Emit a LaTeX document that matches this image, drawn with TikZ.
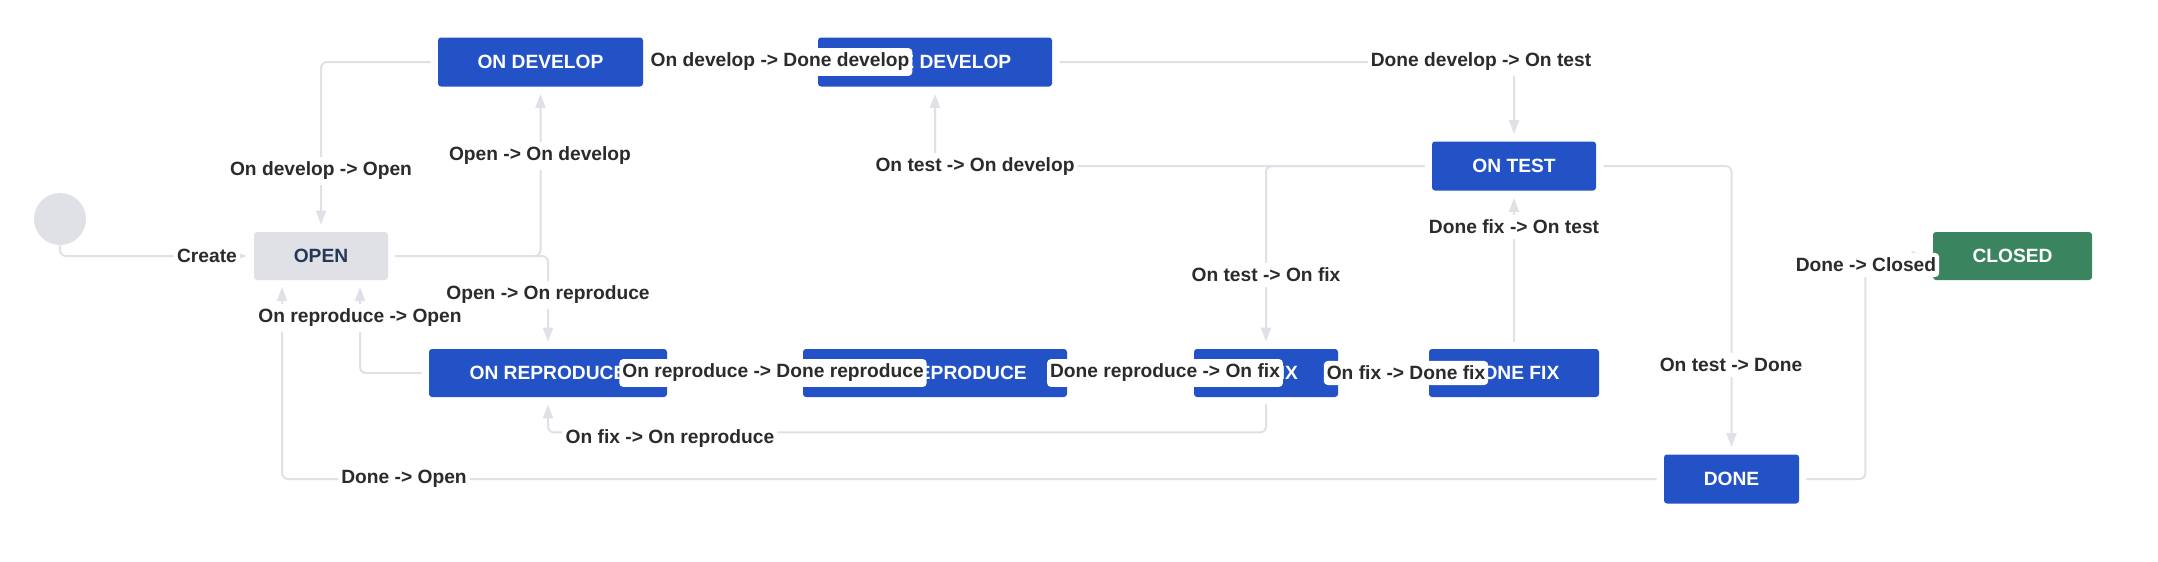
\documentclass[tikz,border=0pt]{standalone}
\usepackage{fontspec}
\setmainfont{Liberation Sans}
\usetikzlibrary{arrows.meta}
\definecolor{jblue}{HTML}{2352C6}
\definecolor{jgreen}{HTML}{3A8560}
\definecolor{jgray}{HTML}{DFE1E6}
\definecolor{jnavy}{HTML}{253858}
\definecolor{jline}{HTML}{DFE1E6}
\definecolor{jtext}{HTML}{2B2B2B}
\begin{document}
\begin{tikzpicture}[x=0.5pt,y=-0.5pt,
 font=\fontsize{9.6}{11}\selectfont\bfseries,
 state/.style={rectangle, rounded corners=1.5pt, inner sep=0pt, minimum height=24pt},
 bluestate/.style={state, fill=jblue, text=white},
 conn/.style={draw=jline, line width=1pt, rounded corners=3pt, shorten <=3.5pt},
 arr/.style={conn, -{Triangle[width=5pt,length=7pt]}, shorten >=3.5pt},
 lbl/.style={fill=white, text=jtext, rounded corners=2pt, inner xsep=1.5pt, inner ysep=2.5pt}
]
\useasboundingbox (0,0) rectangle (2158,562);

% states
\node[circle, fill=jgray, minimum size=26pt, inner sep=0pt] (start) at (60,219) {};
\node[state, fill=jgray, text=jnavy, minimum width=67pt] (open) at (321,256) {OPEN};
\node[bluestate, minimum width=102.5pt, minimum height=24.5pt] (ondev) at (540.5,62) {ON DEVELOP};
\node[bluestate, minimum width=117pt, minimum height=24.5pt] (donedev) at (935,62) {DONE DEVELOP};
\node[bluestate, minimum width=82pt, minimum height=24.5pt] (ontest) at (1514,166) {ON TEST};
\node[state, fill=jgreen, text=white, minimum width=79.5pt] (closed) at (2012.5,256) {CLOSED};
\node[bluestate, minimum width=119pt] (onrep) at (548,373) {ON REPRODUCE};
\node[bluestate, minimum width=132pt] (donerep) at (935,373) {DONE REPRODUCE};
\node[bluestate, minimum width=72pt] (onfix) at (1266,373) {ON FIX};
\node[bluestate, minimum width=85pt] (donefix) at (1514,373) {DONE FIX};
\node[bluestate, minimum width=67.5pt, minimum height=24.5pt] (done) at (1731.5,479) {DONE};

\coordinate (openB1) at (282,280);
\coordinate (openB2) at (360,280);

% connectors
\draw[arr, shorten <=0pt] (start.south) |- (open.west);
\draw[arr] (ondev.west) -| (open.north);
\draw[arr] (open.east) -| (ondev.south);
\draw[arr] (open.east) -| (onrep.north);
\draw[arr] (onrep.west) -| (openB2);
\draw[arr] (done.west) -| (openB1);
\draw[arr] (ondev.east) -- (donedev.west);
\draw[arr] (donedev.east) -| (ontest.north);
\draw[arr] (ontest.west) -| (donedev.south);
\draw[arr] (ontest.west) -| (onfix.north);
\draw[arr] (ontest.east) -| (done.north);
\draw[arr] (onrep.east) -- (donerep.west);
\draw[arr] (donerep.east) -- (onfix.west);
\draw[arr] (onfix.east) -- (donefix.west);
\draw[arr] (donefix.north) -- (ontest.south);
\draw[arr] (onfix.south) -- ++(0,35) -| (onrep.south);
\draw[arr] (done.east) -- ++(66,0) |- (closed.west);

% labels
\node[lbl] (lcreate) at (207,256) {Create};
\node[lbl] (l1) at (321,171) {On develop -> Open};
\node[lbl] (l2) at (540,156) {Open -> On develop};
\node[lbl] (l3) at (548,295) {Open -> On reproduce};
\node[lbl] (l4) at (360,318) {On reproduce -> Open};
\node[lbl] (l5) at (404,479) {Done -> Open};
\node[lbl] (l6) at (780,62) {On develop -> Done develop};
\node[lbl] (l7) at (1481,62) {Done develop -> On test};
\node[lbl] (l8) at (975,167) {On test -> On develop};
\node[lbl] (l9) at (1266,275) {On test -> On fix};
\node[lbl] (l10) at (1731,365) {On test -> Done};
\node[lbl] (l11) at (773,373) {On reproduce -> Done reproduce};
\node[lbl] (l12) at (1165,373) {Done reproduce -> On fix};
\node[lbl] (l13) at (1406,373) {On fix -> Done fix};
\node[lbl] (l14) at (1514,227) {Done fix -> On test};
\node[lbl] (l15) at (670,439) {On fix -> On reproduce};
\node[lbl] (l16) at (1866,265) {Done -> Closed};
\end{tikzpicture}
\end{document}
